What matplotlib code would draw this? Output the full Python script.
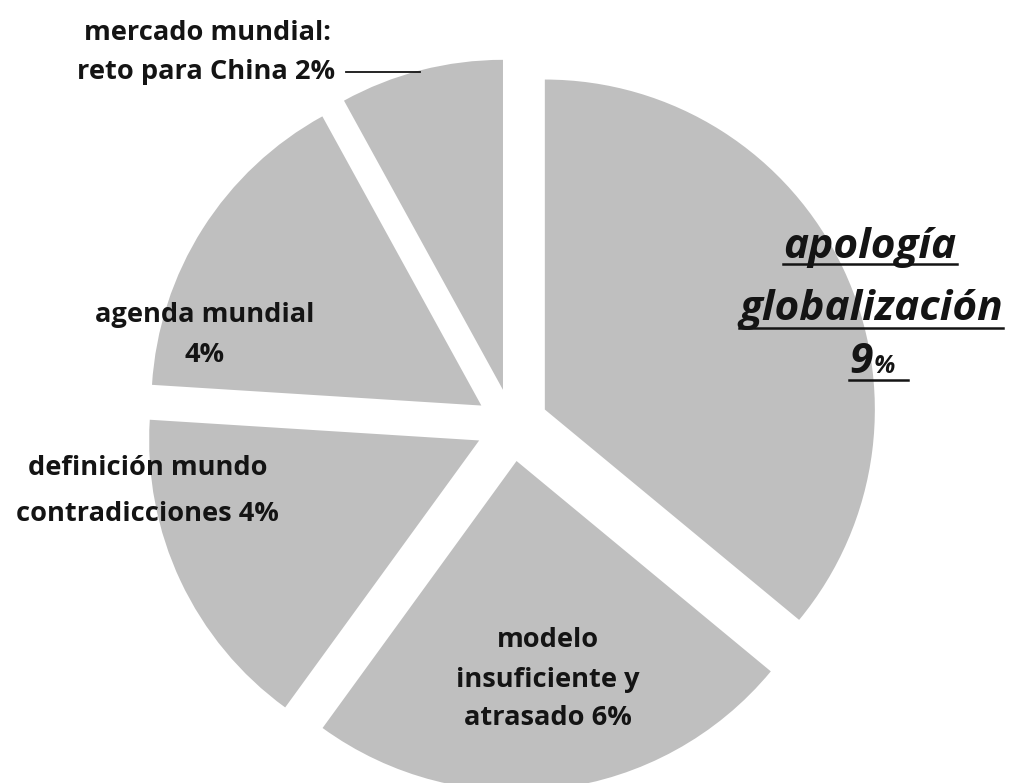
import numpy as np
import matplotlib
matplotlib.use('Agg')
import matplotlib.pyplot as plt
from matplotlib.lines import Line2D

# data
temas = ['apología globalización', 'modelo insuficiente y atrasado',
         'definición mundo contradicciones', 'agenda mundial',
         'mercado mundial: reto para China']
valores = [9, 6, 4, 4, 2]

W, H = 1015, 783
cx, cy, R = 512, 425, 330   # pie centre / radius in pixels


def px(x, y):
    # pixel position (from top-left) -> data coords
    return (x - cx) / R, (cy - y) / R


fig = plt.figure(figsize=(W / 100, H / 100), dpi=100)
ax = fig.add_axes([0, 0, 1, 1])

ax.pie(valores, startangle=90, counterclock=False, explode=[0.11] * 5,
       colors=['#bfbfbf'] * 5, wedgeprops=dict(linewidth=0))
ax.set_xlim(-cx / R, (W - cx) / R)
ax.set_ylim(-(H - cy) / R, cy / R)
ax.set_aspect('equal')
ax.axis('off')

fnt = dict(family='Open Sans', weight='bold', size=19.6, color='#141414',
           ha='center', va='center')

ax.text(*px(207, 33), 'mercado mundial:', **fnt)
ax.text(*px(206, 72), 'reto para China 2%', **fnt)
ax.plot(*zip(px(346, 72), px(420, 72)), color='#141414', lw=1.3)

ax.text(*px(205, 315), 'agenda mundial', **fnt)
ax.text(*px(205, 355), '4%', **fnt)

ax.text(*px(148, 468), 'definición mundo', **fnt)
ax.text(*px(147, 514), 'contradicciones 4%', **fnt)

ax.text(*px(548, 640), 'modelo', **fnt)
ax.text(*px(548, 680), 'insuficiente y', **fnt)
ax.text(*px(548, 718), 'atrasado 6%', **fnt)

# big underlined label
big = dict(family='Open Sans', weight='bold', style='italic', color='#141414',
           ha='center', va='baseline')
t1 = ax.text(*px(870, 258), 'apología', size=30.5, **big)
t2 = ax.text(*px(871, 320), 'globalización', size=30.5, **big)
t3 = ax.text(*px(861, 373), '9', size=30.5, **big)
t4 = ax.text(*px(884, 373), '%', size=18, **big)

fig.canvas.draw()
r = fig.canvas.get_renderer()
for t, x0, x1, yb in [(t1, None, None, 264), (t2, None, None, 328),
                      (t3, None, 908, 380)]:
    bb = t.get_window_extent(r)
    a = bb.x0 if x0 is None else x0
    b = bb.x1 if x1 is None else x1
    fig.add_artist(Line2D([a / W, b / W], [(H - yb) / H, (H - yb) / H],
                          color='#141414', lw=1.8))

plt.savefig('out.png', dpi=100)
